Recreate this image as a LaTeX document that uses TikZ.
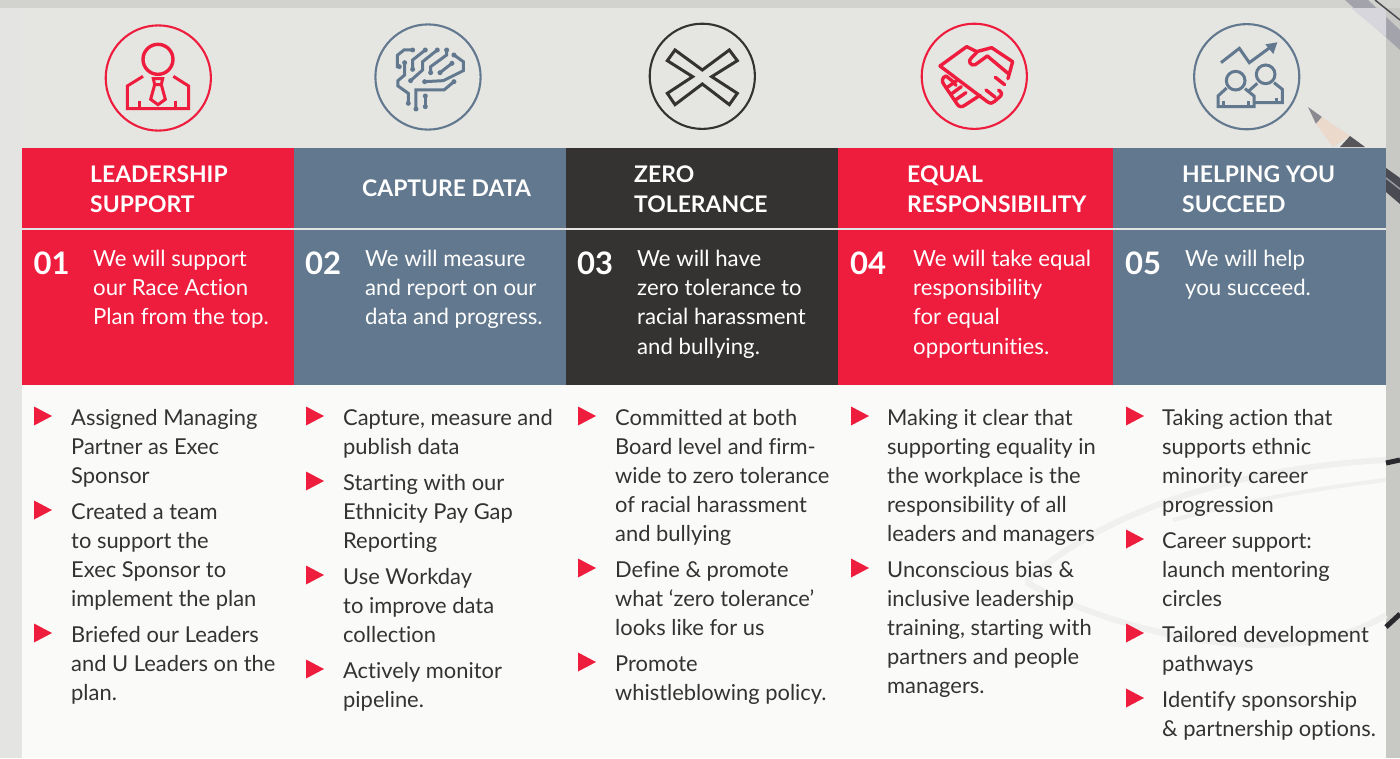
\documentclass[tikz,border=0pt]{standalone}
\usepackage{fontspec}
\setmainfont[Ligatures=NoCommon]{Lato}
\definecolor{cred}{HTML}{EE1C3D}
\definecolor{cslate}{HTML}{62788E}
\definecolor{cdark}{HTML}{343332}
\definecolor{ctext}{HTML}{333333}
\definecolor{cback}{HTML}{C8C8C4}
\definecolor{cleft}{HTML}{E4E4E2}
\definecolor{cstrip}{HTML}{D2D2CE}
\definecolor{ctop}{HTML}{E5E5E2}
\definecolor{cwhite}{HTML}{FAFAF9}
\definecolor{cshadow}{HTML}{F0F0EF}
\definecolor{phA}{HTML}{A3A3AB}
\definecolor{phB}{HTML}{D6D6DC}
\definecolor{phC}{HTML}{4A4A50}
\definecolor{phD}{HTML}{8A8A90}
\definecolor{phE}{HTML}{EBD9CC}
\definecolor{phF}{HTML}{55555A}
\definecolor{phG}{HTML}{4A4A52}
\definecolor{phH}{HTML}{9A9AA2}
\definecolor{phI}{HTML}{2A2A2E}
\definecolor{lineC}{HTML}{E4E4E4}
\tikzset{
 x=1pt,y=-1pt,
 head/.style={anchor=north west,align=left,text=white,inner sep=0pt,font=\fontsize{22.9}{30}\selectfont\bfseries},
 num/.style={anchor=west,text=white,inner sep=0pt,font=\fontsize{31}{31}\selectfont\bfseries},
 lead/.style={anchor=north west,align=left,text=white,inner sep=0pt,font=\fontsize{22.2}{29.3}\selectfont},
 item/.style={anchor=north west,align=left,text=ctext,inner sep=0pt,font=\fontsize{21.9}{29.1}\selectfont},
 ring/.style={draw=#1,line width=2.1pt,fill=none},
 ico/.style={draw=#1,line width=3pt,fill=none},
 zoomed/.style={shift={(#1)},scale=0.3333},
}
\newcommand{\tick}[2]{\fill[cred] (#1,#2-9.5) -- (#1+18,#2) -- (#1,#2+9.5) -- cycle;}
\newcommand{\wire}[1]{\draw[ico=cslate] #1;}
\newcommand{\pin}[2]{\fill[cslate] (#1,#2) circle (7.5);}
\begin{document}
\begin{tikzpicture}
\useasboundingbox (0,0) rectangle (1400,758);
% backdrop
\fill[cback] (0,0) rectangle (1400,758);
\fill[cstrip] (0,0) rectangle (1400,8);
\fill[cleft] (0,8) rectangle (22,758);
\fill[ctop] (22,8) rectangle (1386,148);
\fill[cwhite] (22,385) rectangle (1386,758);
% photo: pencil top right, glasses
\fill[phA] (1345,0) -- (1368,0) -- (1400,30) -- (1400,50) -- cycle;
\fill[phB] (1351,8) -- (1386,8) -- (1386,37) -- cycle;
\draw[phC,line width=1.5pt] (1375,0) -- (1400,20);
\fill[phD] (1308,107) -- (1322,117) -- (1316,124) -- cycle;
\fill[phE] (1322,117) -- (1350,136) -- (1333,147) -- (1316,124) -- cycle;
\fill[phF] (1350,136) -- (1365,147) -- (1340,147) -- cycle;
\fill[phG] (1386,168) -- (1400,178) -- (1400,204) -- (1386,192) -- cycle;
\draw[phH,line width=1.5pt] (1386,178) -- (1400,189);
\draw[cshadow,line width=6pt] (1026,582) .. controls (1080,530) and (1200,470) .. (1386,460);
\draw[cshadow,line width=4pt] (1173,520) .. controls (1230,505) and (1300,490) .. (1386,480);
\draw[cshadow,line width=6pt] (1026,582) .. controls (1100,625) and (1280,680) .. (1386,615);
\draw[phI,line width=5pt] (1386,463) -- (1400,460);
\draw[phI,line width=5pt] (1386,627) -- (1400,614);
% bands
\fill[cred] (22,148) rectangle (294,385);
\fill[cslate] (294,148) rectangle (566,385);
\fill[cdark] (566,148) rectangle (838,385);
\fill[cred] (838,148) rectangle (1113,385);
\fill[cslate] (1113,148) rectangle (1386,385);
\draw[lineC,line width=1.5pt] (22,228.8) -- (1386,228.8);
% rings
\draw[ring=cred] (158.3,78) circle (52.6);
\draw[ring=cslate] (428,77) circle (52.6);
\draw[ring=cdark] (702.3,76.3) circle (52.6);
\draw[ring=cred] (974.3,76.3) circle (52.6);
\draw[ring=cslate] (1246.7,76.7) circle (52.6);
% icon 1 person
\begin{scope}[zoomed={90,10}]
\draw[ico=cred,line width=3.4pt] (204,148) circle (45);
\draw[ico=cred] (159,199) -- (112,228) -- (112,296) -- (296,296) -- (296,228) -- (250,199);
\draw[ico=cred] (150,272) -- (150,296) (258,272) -- (258,296);
\draw[ico=cred] (190,206) -- (218,206) -- (214,224) -- (194,224) -- cycle;
\draw[ico=cred] (194,224) -- (182,268) -- (204,284) -- (226,268) -- (214,224);
\end{scope}
% icon 2 brain
\begin{scope}[zoomed={90,10}]
\wire{(968,120) -- (942,120) -- (922,136) -- (922,170) -- (928,170)}
\pin{968}{120} \pin{928}{170}
\wire{(1006,120) -- (968,150) -- (968,178)}
\pin{1006}{120} \pin{968}{178}
\wire{(944,158) -- (944,195) -- (924,212) -- (924,228) -- (955,250) -- (955,280)}
\pin{944}{158} \pin{955}{280}
\wire{(1042,120) -- (998,155) -- (998,180) -- (962,212)}
\pin{1042}{120} \pin{962}{212}
\wire{(1070,120) -- (1070,135) -- (1022,170) -- (1022,188)}
\pin{1070}{120} \pin{1022}{188}
\wire{(1092,135) -- (1120,155) -- (1120,182) -- (1060,212) -- (1004,215)}
\pin{1092}{135} \pin{1004}{215}
\wire{(1086,160) -- (1050,188)}
\pin{1086}{160} \pin{1050}{188}
\wire{(1092,215) -- (1062,240) -- (978,240) -- (978,297)}
\pin{1092}{215} \pin{978}{297}
\wire{(1006,258) -- (1006,290)}
\pin{1006}{258} \pin{1006}{290}
\end{scope}
% icon 3 cross
\begin{scope}[zoomed={630,10}]
\draw[ico=cdark,line join=miter] (135,120) -- (217,180) -- (298,120) -- (322,152) -- (245,200) -- (322,250) -- (298,284) -- (217,222) -- (135,284) -- (112,250) -- (188,200) -- (112,152) -- cycle;
\end{scope}
% icon 4 handshake
\begin{scope}[zoomed={630,10},line join=round,line cap=round]
\draw[ico=cred,line width=3.4pt] (1040,125) -- (1010,110) -- (930,168) -- (1072,275) .. controls (1082,282) and (1088,280) .. (1094,274) -- (1112,258) .. controls (1118,250) and (1112,244) .. (1106,240);
\draw[ico=cred,line width=3.4pt] (1040,125) -- (1085,113) -- (1148,155) -- (1134,206);
\draw[ico=cred,line width=3.4pt] (1072,138) -- (1036,164) .. controls (1022,170) and (1012,152) .. (1024,144) -- (1040,128);
\draw[ico=cred,line width=3.4pt] (1072,138) -- (1134,190);
\draw[ico=cred,line width=3.4pt] (1096,202) -- (1124,224) (1068,240) -- (1096,262);
\draw[ico=cred,line width=3.4pt] (948,198) .. controls (936,202) and (934,214) .. (942,224) -- (980,280) .. controls (986,292) and (996,292) .. (1004,286) -- (1050,256);
\draw[ico=cred,line width=3.4pt] (948,198) -- (966,212) (966,212) -- (978,226) (952,232) -- (980,212) (964,252) -- (994,230) (976,270) -- (1008,248);
\end{scope}
% icon 5 people and chart
\begin{scope}[zoomed={1120,0}]
\wire{(303,188) -- (358,145) -- (388,188) -- (448,144)}
\fill[cslate] (472,127) -- (436,133) -- (460,162) -- cycle;
\draw[ico=cslate] (347,242) circle (28);
\draw[ico=cslate] (437,223) circle (28);
\wire{(320,264) -- (294,288) -- (294,320) -- (402,320) -- (402,288) -- (375,266)}
\wire{(310,304) -- (310,320) (386,304) -- (386,320)}
\wire{(385,274) -- (412,250)}
\wire{(462,248) -- (487,268) -- (487,308) -- (402,308)}
\wire{(470,294) -- (470,308)}
\end{scope}
% headers
\node[head] (h1) at (90,165.6) {LEADERSHIP\\SUPPORT};
\node[head,anchor=west] (h2) at (362,188) {CAPTURE DATA};
\node[head] (h3) at (634,165.6) {ZERO\\TOLERANCE};
\node[head] (h4) at (907,165.6) {EQUAL\\RESPONSIBILITY};
\node[head] (h5) at (1182,165.6) {HELPING YOU\\SUCCEED};
% numbers
\node[num] (n1) at (33.5,263) {01};
\node[num] (n2) at (305,263) {02};
\node[num] (n3) at (577,263) {03};
\node[num] (n4) at (850,263) {04};
\node[num] (n5) at (1125,263) {05};
% leads
\node[lead] (l1) at (93,249.8) {We will support\\our Race Action\\Plan from the top.};
\node[lead] (l2) at (365,249.8) {We will measure\\and report on our\\data and progress.};
\node[lead] (l3) at (637,249.8) {We will have\\zero tolerance to\\racial harassment\\and bullying.};
\node[lead] (l4) at (913,249.8) {We will take equal\\responsibility\\for equal\\opportunities.};
\node[lead] (l5) at (1185,249.8) {We will help\\you succeed.};
% column 1
\tick{34}{416} \node[item] (a1) at (71,409.2) {Assigned Managing\\Partner as Exec\\Sponsor};
\tick{34}{510} \node[item] (a2) at (71,503.2) {Created a team\\to support the\\Exec Sponsor to\\implement the plan};
\tick{34}{633} \node[item] (a3) at (71,626.2) {Briefed our Leaders\\and U Leaders on the\\plan.};
% column 2
\tick{306}{416} \node[item] (b1) at (343,409.2) {Capture, measure and\\publish data};
\tick{306}{481} \node[item] (b2) at (343,474.2) {Starting with our\\Ethnicity Pay Gap\\Reporting};
\tick{306}{575} \node[item] (b3) at (343,568.2) {Use Workday\\to improve data\\collection};
\tick{306}{669} \node[item] (b4) at (343,662.2) {Actively monitor\\pipeline.};
% column 3
\tick{578}{416} \node[item] (c1) at (615,409.2) {Committed at both\\Board level and firm-\\wide to zero tolerance\\of racial harassment\\and bullying};
\tick{578}{568} \node[item] (c2) at (615,561.2) {Define \& promote\\what ‘zero tolerance’\\looks like for us};
\tick{578}{662} \node[item] (c3) at (615,655.2) {Promote\\whistleblowing policy.};
% column 4
\tick{851}{416} \node[item] (d1) at (887,409.2) {Making it clear that\\supporting equality in\\the workplace is the\\responsibility of all\\leaders and managers};
\tick{851}{568} \node[item] (d2) at (887,561.2) {Unconscious bias \&\\inclusive leadership\\training, starting with\\partners and people\\managers.};
% column 5
\tick{1126}{416} \node[item] (e1) at (1162,409.2) {Taking action that\\supports ethnic\\minority career\\progression};
\tick{1126}{539} \node[item] (e2) at (1162,532.2) {Career support:\\launch mentoring\\circles};
\tick{1126}{633} \node[item] (e3) at (1162,626.2) {Tailored development\\pathways};
\tick{1126}{698} \node[item] (e4) at (1162,691.2) {Identify sponsorship\\\& partnership options.};
\end{tikzpicture}
\end{document}
